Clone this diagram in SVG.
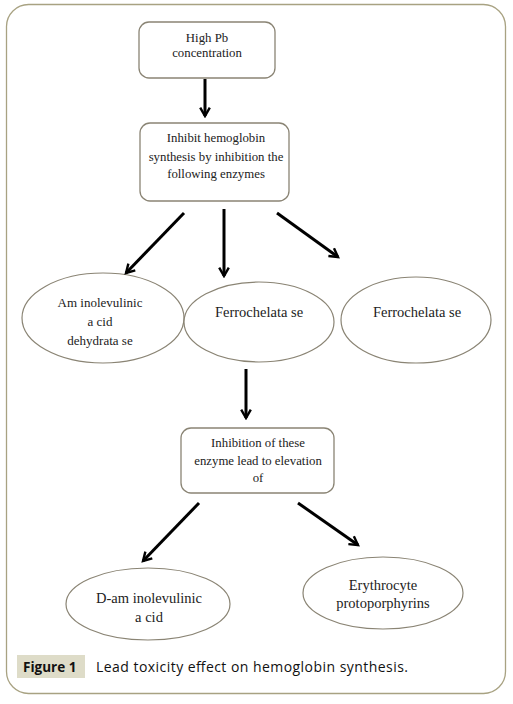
<svg xmlns="http://www.w3.org/2000/svg" width="513" height="704" viewBox="0 0 513 704">
<style>
.box{fill:#fff;stroke:#8a8474;stroke-width:1.3}
.ell{fill:#fff;stroke:#8a8474;stroke-width:1.2}
.t{font-family:"Liberation Serif","DejaVu Serif",serif;font-size:12.8px;fill:#222;text-anchor:middle}
.te{font-family:"Liberation Serif","DejaVu Serif",serif;font-size:14.5px;fill:#222;text-anchor:middle}
.te1{font-family:"Liberation Serif","DejaVu Serif",serif;font-size:13px;fill:#222;text-anchor:middle}
.arr{stroke:#000;stroke-width:3;fill:none}
</style>
<defs>
<marker id="ah" viewBox="0 0 10 10" refX="8" refY="5" markerWidth="4" markerHeight="4" orient="auto" markerUnits="strokeWidth">
<path d="M1,1 L8,5 L1,9" fill="none" stroke="#000" stroke-width="2"/>
</marker>
</defs>
<rect x="6.5" y="4.5" width="499" height="689" rx="22" fill="#fff" stroke="#a8a282" stroke-width="1.3"/>
<g id="n1"><rect class="box" x="139" y="22" width="136" height="56" rx="10"/>
<text class="t" x="207" y="42">High Pb</text><text class="t" x="207" y="57">concentration</text></g>
<g id="n2"><rect class="box" x="140" y="123" width="149" height="78" rx="10"/>
<text class="t" x="216" y="142">Inhibit hemoglobin</text><text class="t" x="216" y="161">synthesis by inhibition the</text><text class="t" x="216" y="178">following enzymes</text></g>
<g id="n3"><ellipse class="ell" cx="103" cy="318" rx="81" ry="45"/>
<text class="te1" x="100" y="307">Am inolevulinic</text><text class="te1" x="100" y="326">a cid</text><text class="te1" x="100" y="345">dehydrata se</text></g>
<g id="n4"><ellipse class="ell" cx="259" cy="322" rx="75" ry="40"/>
<text class="te" x="259" y="317">Ferrochelata se</text></g>
<g id="n5"><ellipse class="ell" cx="416" cy="320" rx="75" ry="43"/>
<text class="te" x="417" y="317">Ferrochelata se</text></g>
<g id="n6"><rect class="box" x="181" y="428" width="153" height="65" rx="10"/>
<text class="t" x="258" y="447">Inhibition of these</text><text class="t" x="258" y="465">enzyme lead to elevation</text><text class="t" x="258" y="482">of</text></g>
<g id="n7"><ellipse class="ell" cx="148" cy="604" rx="82" ry="36"/>
<text class="te" x="149" y="603">D-am inolevulinic</text><text class="te" x="149" y="622">a cid</text></g>
<g id="n8"><ellipse class="ell" cx="383" cy="593" rx="80" ry="36"/>
<text class="te" x="383" y="590">Erythrocyte</text><text class="te" x="383" y="608">protoporphyrins</text></g>
<g id="connectors">
<line class="arr" x1="205" y1="79" x2="205" y2="116" marker-end="url(#ah)"/>
<line class="arr" x1="184" y1="213" x2="126" y2="273" marker-end="url(#ah)"/>
<line class="arr" x1="224" y1="209" x2="224" y2="276" marker-end="url(#ah)"/>
<line class="arr" x1="277" y1="213" x2="338" y2="257" marker-end="url(#ah)"/>
<line class="arr" x1="246" y1="369" x2="246" y2="418" marker-end="url(#ah)"/>
<line class="arr" x1="199" y1="503" x2="143" y2="561" marker-end="url(#ah)"/>
<line class="arr" x1="298" y1="503" x2="358" y2="545" marker-end="url(#ah)"/>
</g>
<g id="caption">
<rect x="17" y="655" width="68" height="23" fill="#dedcc8"/>
<text x="23" y="672" font-family="'Open Sans','Liberation Sans',sans-serif" font-size="13.5" font-weight="bold" fill="#111">Figure 1</text>
<text x="96" y="672" font-family="'Open Sans','Liberation Sans',sans-serif" font-size="14" fill="#111" textLength="312">Lead toxicity effect on hemoglobin synthesis.</text>
</g>
</svg>
